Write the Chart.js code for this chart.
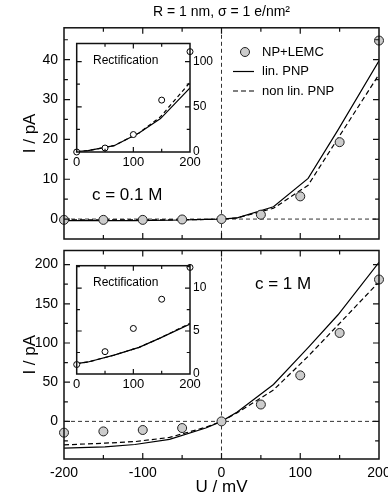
<!DOCTYPE html>
<html>
<head>
<meta charset="utf-8">
<script src="https://cdn.jsdelivr.net/npm/chart.js@4.4.1/dist/chart.umd.min.js"></script>
<style>
  html, body { margin: 0; padding: 0; background: #fff; }
  #wrap { position: relative; width: 388px; height: 503px; }
  canvas { position: absolute; }
</style>
</head>
<body>
<div id="wrap">
  <canvas id="topChart" width="388" height="245" style="left:0;top:0"></canvas>
  <canvas id="bottomChart" width="388" height="258" style="left:0;top:245px"></canvas>
  <canvas id="insetTop" width="160" height="136" style="left:66px;top:36px"></canvas>
  <canvas id="insetBottom" width="160" height="136" style="left:66px;top:258px"></canvas>
</div>
<script>
// DATA
const uPoints = [-200, -150, -100, -50, 0, 50, 100, 150, 200];
const uCurve = [-200, -148, -110, -66, -20, 0, 20, 66, 110, 148, 200];

// c = 0.1 M
const mcLow = [-0.2, -0.2, -0.2, -0.1, 0, 1.1, 5.7, 19.3, 44.8];
const linLow = [-0.4, -0.4, -0.4, -0.3, -0.1, 0, 0.3, 3.1, 10.2, 22.4, 39.7];
const nonlinLow = [-0.2, -0.2, -0.2, -0.2, -0.1, 0, 0.3, 2.7, 8.5, 20.3, 36.3];

// c = 1 M
const mcHigh = [-14.4, -12.8, -11, -8.5, 0, 21.5, 58.7, 112.8, 181];
const linHigh = [-34, -32.5, -29.5, -23, -8.5, 0, 12, 47, 94, 136, 203];
const nonlinHigh = [-30, -27.8, -25.8, -20.5, -7.5, 0, 11, 40, 83, 123, 178];

// rectification insets
const uRect = [0, 50, 100, 150, 200];
const uRectCurve = [0, 20, 66, 110, 148, 200];
const rectMcLow = [0, 4.4, 19.3, 57.4, 111];
const rectLinLow = [0.5, 1.5, 7, 21, 37, 71];
const rectNonlinLow = [0.5, 1.5, 7, 21, 39, 77];
const rectMcHigh = [1.1, 2.6, 5.3, 8.7, 12.4];
const rectLinHigh = [1.2, 1.4, 2.2, 3.1, 4.2, 5.8];
const rectNonlinHigh = [1.2, 1.4, 2.2, 3.1, 4.2, 5.9];

// ticks
const xLabels = [-200, -100, 0, 100, 200];
const xMarks = [-150, -100, -50, 0, 50, 100, 150];
const lowLabels = [0, 10, 20, 30, 40];
const lowMarks = [0, 5, 10, 15, 20, 25, 30, 35, 40, 45];
const highLabels = [0, 50, 100, 150, 200];
const highMarks = [-25, 0, 25, 50, 75, 100, 125, 150, 175, 200];
const rectXLabels = [0, 100, 200];
const rectXMarks = [50, 100, 150];
const rectLowLabels = [0, 50, 100];
const rectLowMarks = [25, 50, 75, 100];
const rectHighLabels = [0, 5, 10];
const rectHighMarks = [2.5, 5, 7.5, 10, 12.5];

Chart.defaults.font.family = "'Liberation Sans', Arial, Helvetica, sans-serif";
Chart.defaults.color = '#000';

function pts(xs, ys) {
  return xs.map((x, i) => ({ x: x, y: ys[i] }));
}

function setTicks(values) {
  return function (scale) {
    scale.ticks = values.map(v => ({ value: v }));
  };
}

// fixed axis sizes, no extra label padding
function fixWidth(w) {
  return function (s) {
    s.width = w;
    s.paddingTop = 0;
    s.paddingBottom = 0;
  };
}
function fixHeight(h) {
  return function (s) {
    s.height = h;
    s.paddingLeft = 0;
    s.paddingRight = 0;
  };
}

// frame, inward ticks and dashed zero lines
function framePlugin(cfg) {
  return {
    id: 'frame',
    beforeDraw(chart) {
      const a = chart.chartArea, ctx = chart.ctx;
      ctx.save();
      ctx.fillStyle = '#fff';
      ctx.fillRect(a.left, a.top, a.right - a.left, a.bottom - a.top);
      ctx.restore();
    },
    beforeDatasetsDraw(chart) {
      if (!cfg.zero) return;
      const a = chart.chartArea, ctx = chart.ctx;
      const px = chart.scales.x.getPixelForValue(0);
      const py = chart.scales.y.getPixelForValue(0);
      ctx.save();
      ctx.strokeStyle = '#333';
      ctx.lineWidth = 1;
      ctx.setLineDash([4, 3]);
      ctx.beginPath();
      ctx.moveTo(a.left, py); ctx.lineTo(a.right, py);
      ctx.moveTo(px, a.top); ctx.lineTo(px, a.bottom);
      ctx.stroke();
      ctx.restore();
    },
    afterDatasetsDraw(chart) {
      const a = chart.chartArea, ctx = chart.ctx;
      const xs = chart.scales.x, ys = chart.scales.y;
      ctx.save();
      ctx.strokeStyle = '#111';
      ctx.lineWidth = 1.2;
      ctx.beginPath();
      cfg.xMarks.forEach(v => {
        const p = xs.getPixelForValue(v);
        const l = cfg.xMajor.includes(v) ? cfg.len : cfg.len * 0.65;
        ctx.moveTo(p, a.bottom); ctx.lineTo(p, a.bottom - l);
        ctx.moveTo(p, a.top); ctx.lineTo(p, a.top + l);
      });
      cfg.yMarks.forEach(v => {
        const p = ys.getPixelForValue(v);
        const l = cfg.yMajor.includes(v) ? cfg.len : cfg.len * 0.65;
        ctx.moveTo(a.left, p); ctx.lineTo(a.left + l, p);
        ctx.moveTo(a.right, p); ctx.lineTo(a.right - l, p);
      });
      ctx.stroke();
      ctx.lineWidth = 1.5;
      ctx.strokeRect(a.left, a.top, a.right - a.left, a.bottom - a.top);
      ctx.restore();
    }
  };
}

function textPlugin(items) {
  return {
    id: 'notes',
    afterDraw(chart) {
      const ctx = chart.ctx;
      ctx.save();
      ctx.fillStyle = '#000';
      ctx.textBaseline = 'middle';
      items.forEach(t => {
        ctx.font = t.size + "px 'Liberation Sans', Arial, sans-serif";
        ctx.fillText(t.text, t.x, t.y);
      });
      ctx.restore();
    }
  };
}

const legendPlugin = {
  id: 'customLegend',
  afterDraw(chart) {
    const ctx = chart.ctx;
    const ds = chart.data.datasets;
    ctx.save();
    ctx.font = "13px 'Liberation Sans', Arial, sans-serif";
    ctx.textBaseline = 'middle';
    // circle
    ctx.beginPath();
    ctx.arc(245, 52, 4.5, 0, Math.PI * 2);
    ctx.fillStyle = ds[0].pointBackgroundColor;
    ctx.fill();
    ctx.strokeStyle = ds[0].pointBorderColor;
    ctx.lineWidth = 1;
    ctx.stroke();
    ctx.fillStyle = '#000';
    ctx.fillText(ds[0].label, 262, 52);
    // lines
    [1, 2].forEach((k, i) => {
      const y = 71.5 + i * 19.5;
      ctx.strokeStyle = ds[k].borderColor;
      ctx.lineWidth = ds[k].borderWidth;
      ctx.setLineDash(ds[k].borderDash || []);
      ctx.beginPath();
      ctx.moveTo(233, y); ctx.lineTo(254, y);
      ctx.stroke();
      ctx.fillText(ds[k].label, 262, y);
    });
    ctx.restore();
  }
};

function mainDatasets(mc, lin, nonlin) {
  return [{
    label: 'NP+LEMC',
    data: pts(uPoints, mc),
    pointRadius: 4.5,
    pointBackgroundColor: '#cccccc',
    pointBorderColor: '#222',
    pointBorderWidth: 1,
    clip: false
  }, {
    label: 'lin. PNP',
    data: pts(uCurve, lin),
    showLine: true,
    borderColor: '#000',
    borderWidth: 1.2,
    pointRadius: 0
  }, {
    label: 'non lin. PNP',
    data: pts(uCurve, nonlin),
    showLine: true,
    borderColor: '#000',
    borderWidth: 1.2,
    borderDash: [5, 3],
    pointRadius: 0
  }];
}

function yAxis(min, max, labels) {
  return {
    type: 'linear', min: min, max: max,
    afterFit: fixWidth(64),
    afterBuildTicks: setTicks(labels),
    grid: { display: false, drawTicks: false },
    border: { display: false },
    ticks: { padding: 6, font: { size: 14 } },
    title: { display: true, text: 'I / pA', font: { size: 17 }, padding: { top: 20, bottom: 0 } }
  };
}

// TOP PANEL (c = 0.1 M)
const topChart = new Chart(document.getElementById('topChart'), {
  type: 'scatter',
  data: { datasets: mainDatasets(mcLow, linLow, nonlinLow) },
  options: {
    responsive: false,
    animation: false,
    layout: { padding: { top: 0, right: 9, bottom: 6, left: 0 } },
    plugins: {
      legend: { display: false },
      tooltip: { enabled: false },
      title: {
        display: true,
        text: 'R = 1 nm, σ = 1 e/nm²',
        fullSize: false,
        font: { size: 14, weight: 'normal' },
        padding: { top: 4, bottom: 7 }
      }
    },
    scales: {
      x: { type: 'linear', min: -200, max: 200, display: false },
      y: yAxis(-5, 48, lowLabels)
    }
  },
  plugins: [
    framePlugin({ zero: true, xMarks: xMarks, xMajor: xLabels, yMarks: lowMarks, yMajor: lowLabels, len: 6 }),
    legendPlugin,
    textPlugin([{ text: 'c = 0.1 M', x: 92, y: 195, size: 17 }])
  ]
});

// BOTTOM PANEL (c = 1 M)
const bottomChart = new Chart(document.getElementById('bottomChart'), {
  type: 'scatter',
  data: { datasets: mainDatasets(mcHigh, linHigh, nonlinHigh) },
  options: {
    responsive: false,
    animation: false,
    layout: { padding: { top: 4, right: 9, bottom: 0, left: 0 } },
    plugins: { legend: { display: false }, tooltip: { enabled: false } },
    scales: {
      x: {
        type: 'linear', min: -200, max: 200,
        afterFit: fixHeight(44),
        afterBuildTicks: setTicks(xLabels),
        grid: { display: false, drawTicks: false },
        border: { display: false },
        ticks: { padding: 6, maxRotation: 0, font: { size: 14 } },
        title: { display: true, text: 'U / mV', font: { size: 17 }, padding: { top: 0, bottom: 5 } }
      },
      y: yAxis(-48, 218, highLabels)
    }
  },
  plugins: [
    framePlugin({ zero: true, xMarks: xMarks, xMajor: xLabels, yMarks: highMarks, yMajor: highLabels, len: 6 }),
    textPlugin([{ text: 'c = 1 M', x: 255, y: 39, size: 17 }])
  ]
});

// INSETS
function insetChart(id, mc, lin, nonlin, ymax, yLabels, yMarks, padTop) {
  return new Chart(document.getElementById(id), {
    type: 'scatter',
    data: {
      datasets: [{
        data: pts(uRect, mc),
        pointRadius: 3,
        pointBackgroundColor: '#fff',
        pointBorderColor: '#000',
        pointBorderWidth: 1,
        clip: false
      }, {
        data: pts(uRectCurve, lin),
        showLine: true,
        borderColor: '#000',
        borderWidth: 1.2,
        pointRadius: 0
      }, {
        data: pts(uRectCurve, nonlin),
        showLine: true,
        borderColor: '#000',
        borderWidth: 1.2,
        borderDash: [4, 3],
        pointRadius: 0
      }]
    },
    options: {
      responsive: false,
      animation: false,
      layout: { padding: { top: padTop, right: 0, bottom: 0, left: 10.7 } },
      plugins: { legend: { display: false }, tooltip: { enabled: false } },
      scales: {
        x: {
          type: 'linear', min: 0, max: 200,
          afterFit: fixHeight(20),
          afterBuildTicks: setTicks(rectXLabels),
          grid: { display: false, drawTicks: false },
          border: { display: false },
          ticks: { padding: 3, maxRotation: 0, font: { size: 13 } }
        },
        y: {
          type: 'linear', position: 'right', min: 0, max: ymax,
          afterFit: fixWidth(36),
          afterBuildTicks: setTicks(yLabels),
          grid: { display: false, drawTicks: false },
          border: { display: false },
          ticks: { padding: 3, font: { size: 12 } }
        }
      }
    },
    plugins: [
      framePlugin({ zero: false, xMarks: rectXMarks, xMajor: rectXLabels, yMarks: yMarks, yMajor: yLabels, len: 5 }),
      textPlugin([{ text: 'Rectification', x: 27, y: padTop + 17, size: 12 }])
    ]
  });
}

const insetTop = insetChart('insetTop', rectMcLow, rectLinLow, rectNonlinLow, 120, rectLowLabels, rectLowMarks, 7.5);
const insetBottom = insetChart('insetBottom', rectMcHigh, rectLinHigh, rectNonlinHigh, 12.6, rectHighLabels, rectHighMarks, 7.7);
</script>
</body>
</html>
